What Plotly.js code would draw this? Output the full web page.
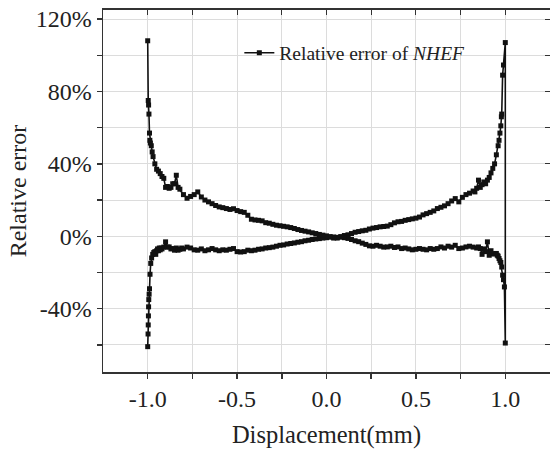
<!DOCTYPE html>
<html>
<head>
<meta charset="utf-8">
<script src="https://cdn.plot.ly/plotly-3.0.1.min.js"></script>
<style>html,body{margin:0;padding:0;background:#fff;}#chart{width:550px;height:449px;}</style>
</head>
<body>
<div id="chart"></div>
<script>
// Forward branch: displacement from -1.0 to 1.0 (mm), relative error in %
const xForward = [-1.0,-0.998,-0.997,-0.996,-0.995,-0.994,-0.992,-0.99,-0.987,-0.983,-0.978,-0.972,-0.966,-0.96,-0.955,-0.95,-0.945,-0.94,-0.935,-0.93,-0.925,-0.92,-0.91,-0.90,-0.89,-0.88,-0.87,-0.86,-0.85,-0.84,-0.83,-0.82,-0.81,-0.80,-0.78,-0.76,-0.74,-0.72,-0.70,-0.68,-0.66,-0.64,-0.62,-0.60,-0.58,-0.56,-0.54,-0.52,-0.50,-0.48,-0.46,-0.44,-0.42,-0.40,-0.38,-0.36,-0.34,-0.32,-0.30,-0.28,-0.26,-0.24,-0.22,-0.20,-0.18,-0.16,-0.14,-0.12,-0.10,-0.08,-0.06,-0.04,-0.02,0.00,0.02,0.04,0.06,0.08,0.10,0.12,0.14,0.16,0.18,0.20,0.22,0.24,0.26,0.28,0.30,0.32,0.34,0.36,0.38,0.40,0.42,0.44,0.46,0.48,0.50,0.52,0.54,0.56,0.58,0.60,0.62,0.64,0.66,0.68,0.70,0.72,0.74,0.76,0.78,0.80,0.82,0.83,0.84,0.85,0.86,0.87,0.88,0.89,0.90,0.91,0.92,0.93,0.94,0.95,0.96,0.965,0.97,0.975,0.978,0.98,0.985,0.99,1.0];
const errForward = [-61,-54,-49,-44,-39,-35,-32,-29,-21,-15,-12,-10,-9,-8.5,-10,-8,-7,-8,-6.5,-7.5,-6.5,-7,-6,-3.1,-6,-5.9,-7,-6.8,-7.7,-6.5,-7.7,-7.2,-6.5,-7,-6,-6.5,-7.5,-7.7,-7,-8,-7.5,-6.8,-7.5,-8,-7.5,-7.7,-7.2,-6.8,-8.5,-8.7,-8.5,-7.7,-8,-7.7,-7.2,-7,-6.5,-6.3,-6,-5.5,-5,-4.8,-4.3,-4,-3.7,-3.3,-3,-2.5,-2.2,-1.8,-1.5,-1.3,-1,-0.8,-0.5,-0.4,-1.0,-0.2,0.4,0.8,1.5,2.2,2.6,3,3.3,4,4.5,4.8,5.2,5.4,5.6,6.4,7.4,8,8.2,8.8,9.2,9.6,10,10.6,11.8,12.5,13.2,14,15.3,16,16.8,18,19.5,20.8,19,21.5,23,23.8,25,24.5,26.5,31,27,28.5,30,29,31,32.5,35,37.5,40,45,50,53,57,61,66,67.5,89,94.6,107];

// Return branch: displacement from 1.0 back to -1.0 (mm), relative error in %
const xReturn = [1.0,0.995,0.99,0.985,0.98,0.975,0.97,0.965,0.96,0.955,0.95,0.94,0.93,0.92,0.91,0.90,0.89,0.88,0.87,0.86,0.85,0.84,0.82,0.80,0.78,0.76,0.74,0.72,0.70,0.68,0.66,0.64,0.62,0.60,0.58,0.56,0.54,0.52,0.50,0.48,0.46,0.44,0.42,0.40,0.38,0.36,0.34,0.32,0.30,0.28,0.26,0.24,0.22,0.20,0.18,0.16,0.14,0.12,0.10,0.08,0.06,0.04,0.02,0.00,-0.02,-0.04,-0.06,-0.08,-0.10,-0.12,-0.14,-0.16,-0.18,-0.20,-0.22,-0.24,-0.26,-0.28,-0.30,-0.32,-0.34,-0.36,-0.38,-0.40,-0.42,-0.44,-0.46,-0.48,-0.50,-0.52,-0.54,-0.56,-0.58,-0.60,-0.62,-0.64,-0.66,-0.68,-0.70,-0.72,-0.74,-0.76,-0.78,-0.80,-0.82,-0.83,-0.84,-0.85,-0.86,-0.87,-0.88,-0.89,-0.90,-0.91,-0.92,-0.93,-0.94,-0.95,-0.96,-0.97,-0.975,-0.98,-0.985,-0.988,-0.99,-0.993,-0.995,-0.997,-1.0];
const errReturn = [-59,-28,-24,-21.5,-17,-14.5,-13.5,-12.3,-11,-10.5,-9.5,-9.6,-9.8,-8,-10.5,-3.1,-8.5,-7,-10,-6.8,-5.9,-6.5,-6,-5.5,-5.9,-6.5,-6.8,-5,-6,-5.5,-6.5,-5.9,-6.8,-7.2,-6.8,-7.5,-7.2,-6.8,-7.2,-7.5,-7,-6.5,-6.8,-5.9,-6.2,-5.5,-5.9,-6,-5.5,-5,-5.5,-5.3,-4.5,-3.8,-3,-2.5,-1.8,-1.2,-0.8,-0.5,-0.6,-1.0,-0.2,0.2,0.6,1.0,1.5,1.9,2.4,2.8,3.2,3.7,4.3,4.8,5.2,5.5,5.8,6.1,6.6,7.2,7.5,8.5,8.8,9.0,9.4,11.6,13.2,13.6,14.2,15.2,14.8,15.3,15.8,16.2,17,18,19,20,21.7,24.5,23,22,21,23,26,27,33.7,29,29,27,26.5,27.5,27,32,33,34.6,36,37,40,44,46.6,50,51.5,53,57,67.5,72.5,75,108];

const xTickVals = [-1.0,-0.5,0.0,0.5,1.0];
const xTickText = ["-1.0","-0.5","0.0","0.5","1.0"];
const xMinorVals = [-0.75,-0.25,0.25,0.75];
const yTickVals = [-40,0,40,80,120];
const yTickText = ["-40%","0%","40%","80%","120%"];
const yMinorVals = [-60,-20,20,60,100];
const seriesName = "Relative error of <i>NHEF</i>";

const xRange = [-1.25, 1.25];
const yRange = [-75, 125];
const fontFam = '"Liberation Serif", "Times New Roman", serif';
const axisCol = '#333';
const gridCol = '#dcdcdc';

const trace = {
  x: xForward.concat(xReturn),
  y: errForward.concat(errReturn),
  type: 'scatter',
  mode: 'lines+markers',
  name: seriesName,
  line: {color: '#111', width: 1.6},
  marker: {symbol: 'square', size: 5, color: '#111'},
  showlegend: true
};
const dummy = {x: [], y: [], xaxis: 'x2', yaxis: 'y2', showlegend: false, hoverinfo: 'skip', type: 'scatter'};

const layout = {
  width: 550, height: 449,
  margin: {l: 103, r: 0, t: 10, b: 77},
  paper_bgcolor: '#fff', plot_bgcolor: '#fff',
  font: {family: fontFam, color: '#222', size: 24},
  showlegend: true,
  legend: {x: 0.305, y: 0.881, xanchor: 'left', yanchor: 'middle', bgcolor: 'rgba(0,0,0,0)',
           font: {family: fontFam, size: 19.5, color: '#222'}, itemwidth: 30},
  xaxis: {
    range: xRange, tickmode: 'array', tickvals: xTickVals, ticktext: xTickText,
    ticks: 'outside', ticklen: 5, tickwidth: 1.5, tickcolor: axisCol,
    showline: true, linecolor: axisCol, linewidth: 1.5,
    showgrid: true, gridcolor: gridCol, gridwidth: 1, zeroline: false,
    tickfont: {family: fontFam, size: 24, color: '#222'},
    minor: {tickmode: 'array', tickvals: xMinorVals, ticks: 'outside', ticklen: 5, tickcolor: axisCol, showgrid: true, gridcolor: gridCol, gridwidth: 1},
    title: {text: 'Displacement(mm)', font: {family: fontFam, size: 24.5, color: '#222'}, standoff: 14}
  },
  yaxis: {
    range: yRange, tickmode: 'array', tickvals: yTickVals, ticktext: yTickText,
    ticks: 'outside', ticklen: 5, tickwidth: 1.5, tickcolor: axisCol,
    showline: true, linecolor: axisCol, linewidth: 1.5,
    showgrid: true, gridcolor: gridCol, gridwidth: 1, zeroline: false,
    tickfont: {family: fontFam, size: 24, color: '#222'},
    minor: {tickmode: 'array', tickvals: yMinorVals, ticks: 'outside', ticklen: 5, tickcolor: axisCol, showgrid: true, gridcolor: gridCol, gridwidth: 1},
    title: {text: 'Relative error', font: {family: fontFam, size: 24, color: '#222'}, standoff: 2}
  },
  xaxis2: {
    overlaying: 'x', side: 'top', anchor: 'y2', range: xRange,
    tickmode: 'array', tickvals: xTickVals.concat(xMinorVals), ticks: 'inside', ticklen: 5, tickcolor: axisCol,
    showticklabels: false, showline: true, linecolor: axisCol, linewidth: 2.5, showgrid: false, zeroline: false
  },
  yaxis2: {
    overlaying: 'y', side: 'right', anchor: 'x2', range: yRange,
    tickmode: 'array', tickvals: yTickVals.concat(yMinorVals), ticks: 'inside', ticklen: 5, tickcolor: axisCol,
    showticklabels: false, showline: true, linecolor: axisCol, linewidth: 2, showgrid: false, zeroline: false
  }
};

Plotly.newPlot('chart', [trace, dummy], layout, {staticPlot: true, displayModeBar: false});
</script>
</body>
</html>
